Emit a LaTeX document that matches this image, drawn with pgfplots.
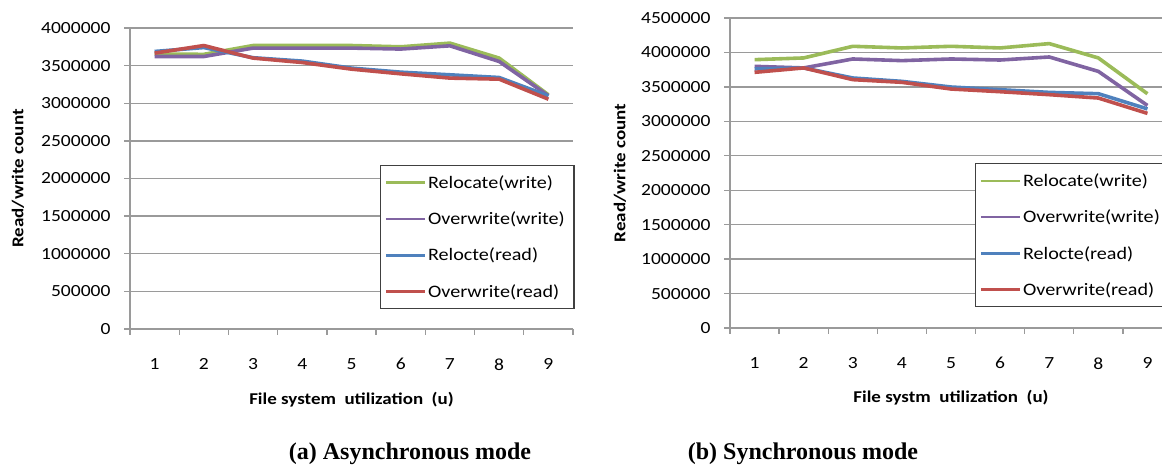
\documentclass[border=0pt]{standalone}
\usepackage{fontspec}
\setmainfont{Carlito}
\newfontfamily\xlfont[FakeStretch=1.15]{Carlito}
\newfontfamily\capfont{Liberation Serif}
\usepackage{pgfplots}
\pgfplotsset{compat=1.18}
\definecolor{xgreen}{HTML}{9BBB59}
\definecolor{xpurple}{HTML}{8064A2}
\definecolor{xblue}{HTML}{4F81BD}
\definecolor{xred}{HTML}{C0504D}
\definecolor{xgrid}{HTML}{9A9A9A}
\pgfplotsset{
  excel/.style={
    scale only axis,
    xmin=0.5, xmax=9.5, ymin=0,
    scaled y ticks=false,
    axis x line*=bottom, axis y line*=left,
    axis line style={draw=xgrid, line width=1.3bp, -},
    xtick={1,...,9},
    minor xtick={0.5,1.5,...,9.5},
    major x tick style={draw=none},
    minor x tick style={draw=xgrid, line width=1.3bp},
    y tick style={draw=xgrid, line width=1.3bp},
    tick align=outside,
    major tick length=6bp, minor tick length=6bp,
    ymajorgrids,
    grid style={draw=xgrid, line width=1.3bp},
    /pgf/number format/assume math mode=true,
    ticklabel style={font=\xlfont\fontsize{17bp}{20bp}\selectfont, text=black},
    xticklabel style={yshift=-20bp},
    yticklabel style={xshift=-10bp},
    label style={font=\xlfont\bfseries\fontsize{16.5bp}{19bp}\selectfont},
    every axis plot/.append style={line width=3.6bp, line join=round, mark=none},
    legend cell align=left,
    legend image code/.code={\draw[line width=2.6bp] (0bp,0bp) -- (39bp,0bp);},
    legend style={anchor=north west, draw=black!75, line width=1.3bp,
      font=\xlfont\fontsize{17.5bp}{20bp}\selectfont,
      inner xsep=4bp, inner ysep=8bp, row sep=18bp},
  }
}
\begin{document}
\begin{tikzpicture}[x=1bp,y=1bp]
\useasboundingbox (0,0) rectangle (1162,466);
\clip (0,0) rectangle (1162,466);
% ---------- (a) ----------
\begin{axis}[excel, at={(130bp,137bp)}, anchor=south west,
  width=443bp, height=301bp, ymax=4000000,
  ytick={0,500000,1000000,1500000,2000000,2500000,3000000,3500000,4000000},
  yticklabels={0,500000,1000000,1500000,2000000,2500000,3000000,3500000,4000000},
  xlabel={File system\ \ utilization\ \ (u)},
  ylabel={Read/write count},
  xlabel style={at={(axis description cs:0.5,-0.236)}, anchor=center},
  ylabel style={at={(axis description cs:-0.253,0.5)}, anchor=center, rotate=0},
  legend style={at={(0.564,0.545)}},
]
\addplot[xgreen] coordinates {(1,3653000) (2,3650000) (3,3767000) (4,3767000) (5,3767000) (6,3750000) (7,3799000) (8,3600000) (9,3112000)};
\addlegendentry{\makebox[140bp][l]{Relocate(write)}}
\addplot[xpurple] coordinates {(1,3621000) (2,3621000) (3,3733000) (4,3733000) (5,3733000) (6,3720000) (7,3763000) (8,3555000) (9,3100000)};
\addlegendentry{Overwrite(write)}
\addplot[xblue] coordinates {(1,3688000) (2,3740000) (3,3605000) (4,3560000) (5,3467000) (6,3413000) (7,3378000) (8,3342000) (9,3098000)};
\addlegendentry{Relocte(read)}
\addplot[xred] coordinates {(1,3666000) (2,3767000) (3,3600000) (4,3541000) (5,3453000) (6,3391000) (7,3334000) (8,3320000) (9,3054000)};
\addlegendentry{Overwrite(read)}
\end{axis}
% ---------- (b) ----------
\begin{axis}[excel, at={(730bp,138bp)}, anchor=south west,
  width=442bp, height=310bp, ymax=4500000,
  ytick={0,500000,1000000,1500000,2000000,2500000,3000000,3500000,4000000,4500000},
  yticklabels={0,500000,1000000,1500000,2000000,2500000,3000000,3500000,4000000,4500000},
  xlabel={File systm\ \ utilization\ \ (u)},
  ylabel={Read/write count},
  xlabel style={at={(axis description cs:0.5,-0.226)}, anchor=center},
  ylabel style={at={(axis description cs:-0.249,0.5)}, anchor=center, rotate=0},
  legend style={at={(0.554,0.532)}},
]
\addplot[xgreen] coordinates {(1,3895000) (2,3920000) (3,4089000) (4,4065000) (5,4089000) (6,4065000) (7,4128000) (8,3920000) (9,3400000)};
\addlegendentry{\makebox[145bp][l]{Relocate(write)}}
\addplot[xpurple] coordinates {(1,3798000) (2,3775000) (3,3905000) (4,3881000) (5,3905000) (6,3890000) (7,3934000) (8,3725000) (9,3230000)};
\addlegendentry{Overwrite(write)}
\addplot[xblue] coordinates {(1,3760000) (2,3775000) (3,3629000) (4,3580000) (5,3498000) (6,3459000) (7,3420000) (8,3401000) (9,3180000)};
\addlegendentry{Relocte(read)}
\addplot[xred] coordinates {(1,3711000) (2,3775000) (3,3605000) (4,3566000) (5,3469000) (6,3430000) (7,3387000) (8,3338000) (9,3115000)};
\addlegendentry{Overwrite(read)}
\end{axis}
% ---------- captions ----------
\node[font=\capfont\bfseries\fontsize{24bp}{28bp}\selectfont, anchor=base] at (410,6) {(a) Asynchronous mode};
\node[font=\capfont\bfseries\fontsize{24bp}{28bp}\selectfont, anchor=base] at (803,6) {(b) Synchronous mode};
\end{tikzpicture}
\end{document}
